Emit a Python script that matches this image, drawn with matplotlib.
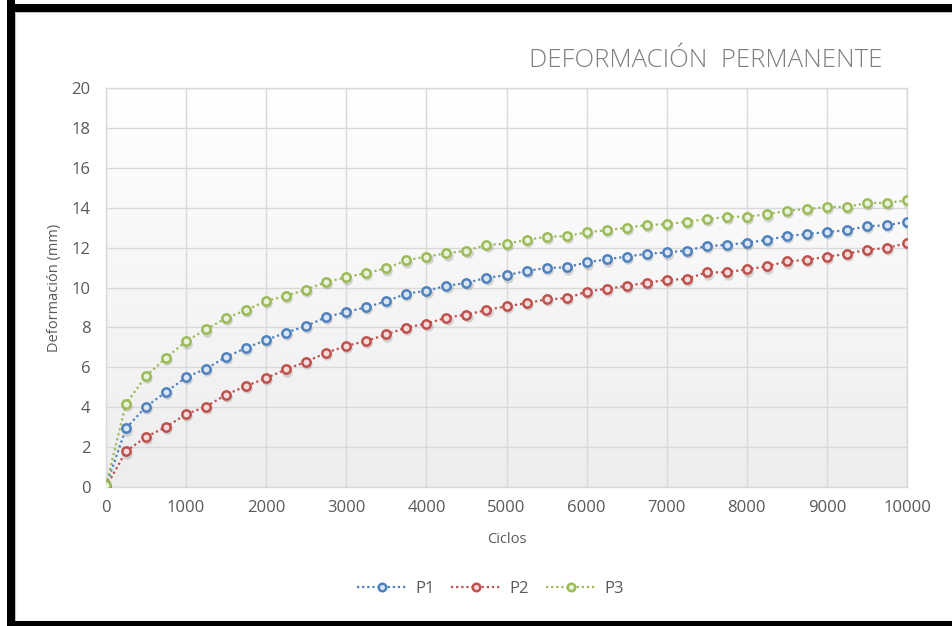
"""Permanent deformation vs. load cycles for three specimens (P1, P2, P3)."""

import matplotlib.pyplot as plt
import numpy as np
from matplotlib.colors import LinearSegmentedColormap
from matplotlib.patches import Rectangle
from matplotlib.transforms import offset_copy

CICLOS = [
    0, 250, 500, 750, 1000, 1250, 1500, 1750, 2000, 2250, 2500,
    2750, 3000, 3250, 3500, 3750, 4000, 4250, 4500, 4750, 5000,
    5250, 5500, 5750, 6000, 6250, 6500, 6750, 7000, 7250, 7500,
    7750, 8000, 8250, 8500, 8750, 9000, 9250, 9500, 9750, 10000,
]

P1 = [
    0.05, 2.94, 4.03, 4.76, 5.50, 5.93, 6.52, 6.97, 7.37, 7.74, 8.07,
    8.52, 8.77, 9.01, 9.31, 9.69, 9.84, 10.08, 10.23, 10.49, 10.61,
    10.83, 10.98, 11.01, 11.26, 11.41, 11.55, 11.69, 11.76, 11.85, 12.08,
    12.13, 12.25, 12.38, 12.58, 12.68, 12.78, 12.87, 13.07, 13.12, 13.30,
]
P2 = [
    0.00, 1.79, 2.51, 3.01, 3.65, 4.03, 4.63, 5.06, 5.46, 5.90, 6.28,
    6.73, 7.07, 7.32, 7.65, 7.99, 8.19, 8.49, 8.64, 8.87, 9.06,
    9.21, 9.41, 9.46, 9.79, 9.94, 10.08, 10.24, 10.38, 10.43, 10.76,
    10.76, 10.91, 11.06, 11.31, 11.39, 11.54, 11.69, 11.89, 11.98, 12.23,
]
P3 = [
    0.10, 4.17, 5.56, 6.48, 7.30, 7.90, 8.47, 8.87, 9.32, 9.59, 9.89,
    10.28, 10.51, 10.73, 10.96, 11.36, 11.55, 11.71, 11.85, 12.13, 12.20,
    12.38, 12.55, 12.57, 12.77, 12.87, 13.00, 13.13, 13.17, 13.30, 13.42,
    13.55, 13.55, 13.67, 13.85, 13.93, 14.04, 14.04, 14.24, 14.24, 14.37,
]

SERIES = ["P1", "P2", "P3"]
COLORS = ["#4F81BD", "#C0504D", "#9BBB59"]
FACES = ["#dbe6f4", "#f4dcdb", "#eaf1dd"]

TEXT = "#595959"
GRID = "#d9d9d9"

plt.rcParams["font.family"] = ["Open Sans", "DejaVu Sans"]

fig = plt.figure(figsize=(9.52, 6.26), dpi=100)
fig.patch.set_facecolor("white")

# black frame around the chart (left, top, bottom) plus thin inner grey rule
for x, y, w, h in [(7 / 952, 0, 8 / 952, 1), (7 / 952, 1 - 12 / 626, 1, 8 / 626),
                   (7 / 952, 0, 1, 5 / 626)]:
    fig.add_artist(Rectangle((x, y), w, h, transform=fig.transFigure,
                             facecolor="black", edgecolor="none", zorder=10))
fig.add_artist(Rectangle((15 / 952, 5 / 626), 1, 1 - 17 / 626,
                         transform=fig.transFigure, facecolor="none",
                         edgecolor="#bfbfbf", linewidth=0.8, zorder=9))

ax = fig.add_axes([106 / 952, 139 / 626, 801 / 952, 399 / 626])

# plot area vertical gradient (white at top, light grey at bottom)
grad = LinearSegmentedColormap.from_list("bg", ["#ededed", "#ffffff"])
ax.imshow(np.linspace(0, 1, 256).reshape(-1, 1), cmap=grad, aspect="auto",
          extent=[0, 1, 0, 1], transform=ax.transAxes, origin="lower",
          zorder=0)

handles = []
for name, vals, col, face in zip(SERIES, [P1, P2, P3], COLORS, FACES):
    shadow = offset_copy(ax.transData, fig=fig, x=0.8, y=-1.6, units="points")
    ax.plot(CICLOS, vals, linestyle="none", marker="o", markersize=7.5,
            markerfacecolor="#7f7f7f", markeredgecolor="none", alpha=0.3,
            transform=shadow, zorder=2)
    (ln,) = ax.plot(CICLOS, vals, linestyle=(0, (1, 1.3)), linewidth=1.6,
                    color=col, marker="o", markersize=6,
                    markerfacecolor=face, markeredgecolor=col,
                    markeredgewidth=1.8, zorder=3, label=name)
    handles.append(ln)

ax.set_xlim(0, 10000)
ax.set_ylim(0, 20)
ax.set_xticks(range(0, 10001, 1000))
ax.set_yticks(range(0, 21, 2))
ax.grid(True, color=GRID, linewidth=1)
ax.set_axisbelow(True)
for sp in ax.spines.values():
    sp.set_color(GRID)
    sp.set_linewidth(1)
ax.tick_params(length=0, labelsize=12, labelcolor=TEXT)
ax.tick_params(axis="x", pad=9)
ax.tick_params(axis="y", pad=11)
ax.set_xticklabels([str(v) for v in range(0, 10001, 1000)])

ax.set_xlabel("Ciclos", fontsize=10.5, color=TEXT, labelpad=12)
ax.set_ylabel("Deformación (mm)", fontsize=10.5, color=TEXT, labelpad=7)

fig.text(0.741, 0.903, "DEFORMACIÓN  PERMANENTE", fontsize=18.5,
         color="#7f7f7f", ha="center", va="center", fontweight="light")

fig.legend(handles=handles, loc="center", bbox_to_anchor=(0.515, 0.059),
           ncol=3, frameon=False, fontsize=12, labelcolor=TEXT,
           handlelength=3.0, columnspacing=1.0, handletextpad=0.5,
           markerscale=0.9)

fig.savefig("out.png", dpi=100)
